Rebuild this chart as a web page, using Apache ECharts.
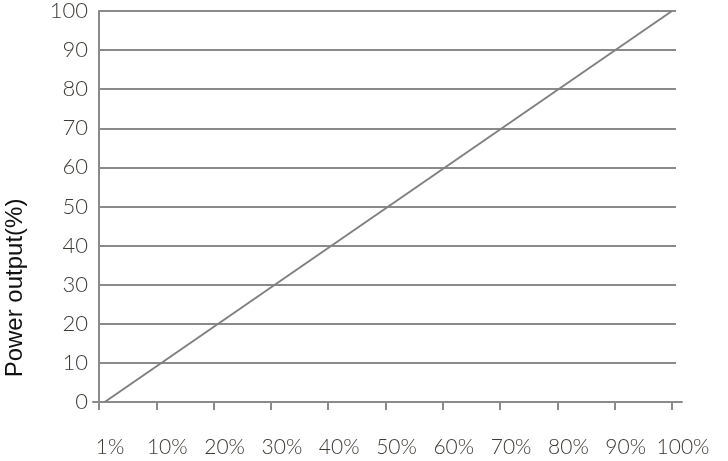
<!DOCTYPE html>
<html>
<head>
<meta charset="utf-8">
<script src="https://cdn.jsdelivr.net/npm/echarts@6/dist/echarts.min.js"></script>
<style>html,body{margin:0;padding:0;background:#fff}#c{width:728px;height:461px}</style>
</head>
<body>
<div id="c"></div>
<script>
// Data
const xTicks = [0, 10, 20, 30, 40, 50, 60, 70, 80, 90, 100];
const xTickLabels = ['1%', '10%', '20%', '30%', '40%', '50%', '60%', '70%', '80%', '90%', '100%'];
const loadPercent = [1, 100];
const powerOutput = [0, 100];
const yTitle = 'Power output(%)';

const lineData = loadPercent.map((x, i) => [x, powerOutput[i]]);
const labelFont = 'Lato, "DejaVu Sans", sans-serif';
const gray = '#8a8a8a';

const chart = echarts.init(document.getElementById('c'), null, {renderer: 'canvas'});
chart.setOption({
  animation: false,
  grid: [
    {left: 99, right: 52, top: 10, bottom: 59, containLabel: false},
    {left: 93, right: 46, top: 10, bottom: 59, containLabel: false}
  ],
  xAxis: [
    {
      type: 'value', gridIndex: 0, min: 0, max: 100.7,
      axisLine: {show: false},
      axisTick: {show: true, length: 8, customValues: xTicks, lineStyle: {color: gray, width: 2}},
      splitLine: {show: false},
      axisLabel: {
        customValues: xTicks,
        margin: 35,
        padding: [0, 0, 0, 22],
        color: '#3d3935',
        fontFamily: labelFont,
        fontWeight: 300,
        fontSize: 21,
        formatter: v => xTickLabels[xTicks.indexOf(v)] || ''
      }
    },
    {
      type: 'value', gridIndex: 1, min: 0, max: 1,
      axisLine: {show: true, onZero: false, lineStyle: {color: gray, width: 2}},
      axisTick: {show: false}, axisLabel: {show: false}, splitLine: {show: false}
    }
  ],
  yAxis: [
    {
      type: 'value', gridIndex: 0, min: 0, max: 100, interval: 10,
      axisLine: {show: true, lineStyle: {color: gray, width: 2}},
      axisTick: {show: false},
      splitLine: {show: true, lineStyle: {color: gray, width: 2}},
      axisLabel: {margin: 11, color: '#3d3935', fontFamily: labelFont, fontWeight: 300, fontSize: 22}
    },
    {
      type: 'value', gridIndex: 1, min: 0, max: 1, show: false
    }
  ],
  graphic: [{
    type: 'text', x: 15, y: 288, rotation: Math.PI / 2,
    style: {text: yTitle, fill: '#111', font: '24px "Liberation Sans", Arial, sans-serif', align: 'center', verticalAlign: 'middle'}
  }],
  series: [{
    type: 'line', xAxisIndex: 0, yAxisIndex: 0,
    data: lineData, showSymbol: false, symbol: 'none',
    lineStyle: {color: '#808080', width: 2}
  }]
});
</script>
</body>
</html>
